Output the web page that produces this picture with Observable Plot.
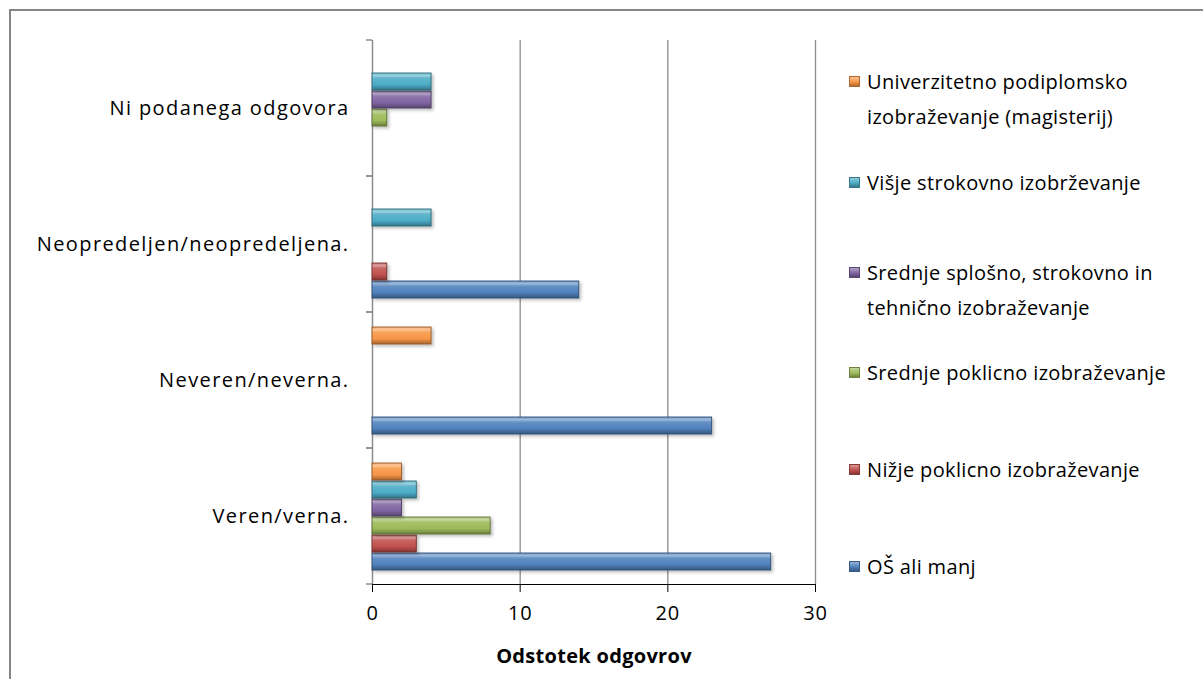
<!DOCTYPE html>
<html>
<head>
<meta charset="utf-8">
<script src="https://cdn.jsdelivr.net/npm/d3@7"></script>
<script src="https://cdn.jsdelivr.net/npm/@observablehq/plot@0.6"></script>
<style>
  html, body { margin: 0; padding: 0; background: #fff; width: 1203px; height: 679px; overflow: hidden; }
  #frame { position: absolute; left: 9px; top: 9px; width: 1400px; height: 900px;
           border-left: 2px solid #868686; border-top: 2px solid #868686; }
  #chart { position: absolute; left: 0; top: 0; }
  .lg { position: absolute; left: 849px; width: 350px; font-family: "Open Sans", sans-serif; font-size: 20px;
        line-height: 35px; color: #000; letter-spacing: 0.35px; }
  .lg .sw { position: absolute; left: 0; top: 12px; width: 11px; height: 11px; box-sizing: border-box; }
  .lg .tx { display: block; padding-left: 18px; width: 318px; }
  [aria-label="fy-axis tick label"] text { letter-spacing: 1.4px; }
  [aria-label="x-axis tick label"] text { letter-spacing: 0.8px; }
  [aria-label="x-axis label"] text { letter-spacing: 0.3px; }
</style>
</head>
<body>
<div id="frame"></div>
<div id="chart"></div>
<div id="legend"></div>
<script>
// ---- data ----
const categories = ["Veren/verna.", "Neveren/neverna.", "Neopredeljen/neopredeljena.", "Ni podanega odgovora"];
const series = [
  "OŠ ali manj",
  "Nižje poklicno izobraževanje",
  "Srednje poklicno izobraževanje",
  "Srednje splošno, strokovno in tehnično izobraževanje",
  "Višje strokovno izobrževanje",
  "Univerzitetno podiplomsko izobraževanje (magisterij)"
];
const valuesOS      = [27, 23, 14, 0];
const valuesNizje   = [3, 0, 1, 0];
const valuesSrPokl  = [8, 0, 0, 1];
const valuesSrSplos = [2, 0, 0, 4];
const valuesVisje   = [3, 0, 4, 4];
const valuesUniv    = [2, 4, 0, 0];
const xTicks = [0, 10, 20, 30];
const colors = ["#4F81BD", "#C0504D", "#9BBB59", "#8064A2", "#4BACC6", "#F79646"];

const seriesValues = [valuesOS, valuesNizje, valuesSrPokl, valuesSrSplos, valuesVisje, valuesUniv];
const rows = [];
series.forEach((s, j) => categories.forEach((c, i) => rows.push({category: c, series: s, value: seriesValues[j][i]})));

const lighten = (c, k) => d3.interpolateRgb(c, "#fff")(k);
const darken = (c, k) => d3.interpolateRgb(c, "#000")(k);

const plot = Plot.plot({
  width: 830,
  height: 679,
  marginLeft: 372,
  marginRight: 15,
  marginTop: 40,
  marginBottom: 95,
  style: {fontFamily: "'Open Sans', sans-serif", fontSize: "20px", color: "#000", background: "transparent", overflow: "visible"},
  facet: {data: rows, y: "category", marginRight: 0},
  fy: {domain: categories.slice().reverse(), padding: 0, axis: "left", label: null, tickSize: 0, tickPadding: 23},
  y: {domain: series.slice().reverse(), axis: null, paddingInner: 0.08, paddingOuter: 0.75},
  x: {domain: [0, 30], ticks: xTicks, tickSize: 8, tickPadding: 13, label: "Odstotek odgovrov",
      labelAnchor: "center", labelArrow: "none", labelOffset: 78, line: true, grid: false},
  marks: [
    Plot.ruleX(xTicks.filter(t => t > 0), {stroke: "#8c8c8c", strokeWidth: 1.3}),
    Plot.ruleX([0], {stroke: "#8c8c8c", strokeWidth: 1.5}),
    (index, scales, values, dimensions) => {
      const {marginLeft, marginTop, marginBottom, height} = dimensions;
      const g = d3.create("svg:g").attr("stroke", "#8c8c8c").attr("stroke-width", 1.5);
      [marginTop, height - marginBottom].forEach(y =>
        g.append("line").attr("x1", marginLeft - 6).attr("x2", marginLeft).attr("y1", y).attr("y2", y));
      return g.node();
    },
    ...series.map((s, j) => Plot.barX(rows, {
      filter: d => d.series === s && d.value > 0,
      x: "value",
      y: "series",
      fill: `url(#grad${j})`,
      stroke: darken(colors[j], 0.4),
      strokeWidth: 0.9
    }))
  ]
});

// gradients & shadow
const svg = d3.select(plot.tagName.toLowerCase() === "svg" ? plot : plot.querySelector("svg"));
const defs = svg.insert("defs", ":first-child");
colors.forEach((c, j) => {
  const lg = defs.append("linearGradient").attr("id", `grad${j}`).attr("x1", 0).attr("x2", 0).attr("y1", 0).attr("y2", 1);
  lg.append("stop").attr("offset", "0%").attr("stop-color", lighten(c, 0.2));
  lg.append("stop").attr("offset", "16%").attr("stop-color", lighten(c, 0.45));
  lg.append("stop").attr("offset", "30%").attr("stop-color", lighten(c, 0.12));
  lg.append("stop").attr("offset", "68%").attr("stop-color", c);
  lg.append("stop").attr("offset", "100%").attr("stop-color", darken(c, 0.32));
});
const f = defs.append("filter").attr("id", "shadow").attr("x", "-10%").attr("y", "-30%").attr("width", "130%").attr("height", "180%");
f.append("feDropShadow").attr("dx", 2).attr("dy", 2).attr("stdDeviation", 1.5).attr("flood-color", "#000").attr("flood-opacity", 0.25);
svg.selectAll('g[aria-label="bar"]').attr("filter", "url(#shadow)");
svg.selectAll('[aria-label="x-axis label"] text, [aria-label="x-axis"] .label, g[aria-label="x-axis label"]').attr("font-weight", "bold");

document.getElementById("chart").append(plot);

// legend (top to bottom order as in reference)
const legendOrder = [5, 4, 3, 2, 1, 0];
const legendCenters = [81, 182, 272, 372, 469, 566];
const legend = d3.select("#legend");
legendOrder.forEach((j, k) => {
  const item = legend.append("div").attr("class", "lg").style("top", (legendCenters[k] - 17.5) + "px");
  item.append("span").attr("class", "sw")
    .style("background", `linear-gradient(${lighten(colors[j], 0.4)}, ${colors[j]} 55%, ${darken(colors[j], 0.3)})`)
    .style("border", `1px solid ${darken(colors[j], 0.3)}`);
  item.append("span").attr("class", "tx").text(series[j]);
});
</script>
</body>
</html>
